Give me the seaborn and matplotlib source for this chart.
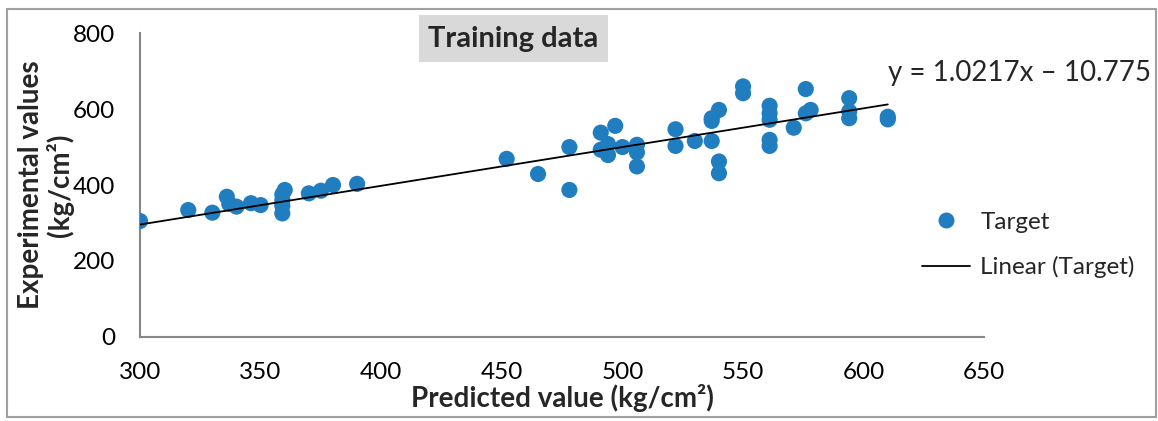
import matplotlib
matplotlib.use("Agg")
import matplotlib.pyplot as plt
from matplotlib.patches import Rectangle
from matplotlib.lines import Line2D
import seaborn as sns
import numpy as np
import pandas as pd

# ---- data ----
predicted = [300, 320, 330, 336, 337, 340, 346, 350, 359, 359, 359, 359, 360, 370, 375, 380, 390,
             452, 465, 478, 478, 491, 491, 494, 494, 497, 500, 506, 506, 506, 522, 522, 530,
             537, 537, 537, 540, 540, 540, 550, 550, 561, 561, 561, 561, 561, 571, 576, 576,
             578, 594, 594, 594, 610, 610]
experimental = [305, 334, 327, 369, 350, 343, 352, 347, 325, 345, 360, 375, 387, 378, 385, 400, 403,
                469, 429, 500, 387, 538, 493, 508, 479, 556, 500, 506, 486, 449, 547, 503, 516,
                576, 569, 516, 598, 462, 431, 660, 642, 609, 589, 572, 519, 503, 551, 653, 589,
                598, 629, 594, 576, 580, 573]
trend_slope = 1.0217
trend_intercept = -10.775
x_ticks = [300, 350, 400, 450, 500, 550, 600, 650]
y_ticks = [0, 200, 400, 600, 800]

df = pd.DataFrame({"Predicted": predicted, "Experimental": experimental})
xl = np.array([min(predicted), max(predicted)], dtype=float)
trend = pd.DataFrame({"x": xl, "y": trend_slope * xl + trend_intercept})

sns.set_style("white")
plt.rcParams["font.family"] = ["Lato", "DejaVu Sans"]

W, H = 1158, 421
fig = plt.figure(figsize=(W / 100, H / 100), dpi=100)
ax = fig.add_axes([140 / W, 1 - 336.7 / H, (984.3 - 140) / W, (336.7 - 33.3) / H])

dot_color = "#1f7dc0"
grey = "#878787"
sns.scatterplot(data=df, x="Predicted", y="Experimental", ax=ax, color=dot_color,
                s=135, edgecolor="none", linewidth=0, zorder=3, legend=False)
sns.lineplot(data=trend, x="x", y="y", ax=ax, color="black", linewidth=1.3, zorder=4)

ax.set_xlim(300, 650)
ax.set_ylim(0, 800)
ax.set_xticks(x_ticks)
ax.set_yticks(y_ticks)
ax.tick_params(axis="both", direction="out", length=6, width=1.3, color=grey,
               labelsize=17.5, labelcolor="black")
ax.tick_params(axis="x", pad=12)
ax.tick_params(axis="y", pad=12)
for s in ["top", "right"]:
    ax.spines[s].set_visible(False)
for s in ["left", "bottom"]:
    ax.spines[s].set_color(grey)
    ax.spines[s].set_linewidth(1.5)
ax.patch.set_alpha(0)

ax.set_xlabel("")
ax.set_ylabel("")
fig.text(562 / W, 1 - 398 / H, "Predicted value (kg/cm²)", ha="center", va="center",
         fontsize=20, fontweight="bold")
fig.text(46 / W, 1 - 185 / H, "Experimental values\n(kg/cm²)", ha="center", va="center",
         rotation=90, fontsize=20, fontweight="bold", linespacing=1.1)

# title box
fig.patches.append(Rectangle((419 / W, 1 - 62 / H), (608 - 419) / W, (62 - 15) / H,
                             transform=fig.transFigure, facecolor="#d9d9d9",
                             edgecolor="none", zorder=0))
fig.text(513 / W, 1 - 39 / H, "Training data", ha="center", va="center", fontsize=21,
         fontweight="bold")

# equation
fig.text(888 / W, 1 - 73 / H, "y = 1.0217x – 10.775", ha="left", va="center", fontsize=20)

# legend
handles = [Line2D([], [], marker="o", linestyle="none", markersize=11.5,
                  markerfacecolor=dot_color, markeredgecolor="none"),
           Line2D([], [], color="black", linewidth=1.3)]
fig.legend(handles, ["Target", "Linear (Target)"], loc="center left",
           bbox_to_anchor=(900 / W, 1 - 245 / H), frameon=False, fontsize=17.5,
           handlelength=2.0, handletextpad=0.4, labelspacing=0.95)

# outer border
fig.patches.append(Rectangle((7 / W, 4 / H), (1156 - 7) / W, (412 - 4) / H,
                             transform=fig.transFigure, fill=False,
                             edgecolor="#a0a0a0", linewidth=1.5))

fig.savefig("out.png", dpi=100)
